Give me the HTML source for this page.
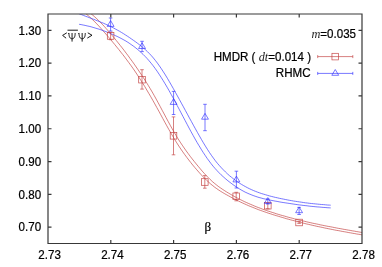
<!DOCTYPE html>
<html><head><meta charset="utf-8"><title>chart</title><style>html,body{margin:0;padding:0;background:#fff}body{width:382px;height:267px;overflow:hidden}</style></head><body>
<svg width="382" height="267" viewBox="0 0 382 267" style="display:block">
<rect width="382" height="267" fill="#fff"/>
<defs><clipPath id="c"><rect x="48.0" y="14.0" width="314.0" height="229.5"/></clipPath></defs>
<g clip-path="url(#c)">
<path d="M89.2,12.1 L92.2,14.7 L94.2,16.4 L96.2,18.2 L98.2,20.1 L100.2,22.1 L102.2,24.2 L104.2,26.3 L106.2,28.6 L108.2,30.9 L110.2,33.2 L112.2,35.5 L114.2,37.9 L116.2,40.4 L118.2,42.9 L120.2,45.4 L122.2,47.9 L124.2,50.5 L126.2,53.2 L128.2,55.8 L130.2,58.6 L132.2,61.3 L134.2,64.1 L136.2,67.0 L138.2,69.9 L140.2,72.9 L142.2,75.9 L144.2,79.0 L146.2,82.1 L148.2,85.3 L150.2,88.6 L152.2,92.0 L154.2,95.5 L156.2,99.1 L158.2,102.8 L160.2,106.5 L162.2,110.3 L164.2,114.0 L166.2,117.8 L168.2,121.5 L170.2,125.2 L172.2,128.8 L174.2,132.3 L176.2,135.7 L178.2,139.0 L180.2,142.1 L182.2,145.1 L184.2,148.0 L186.2,150.9 L188.2,153.6 L190.2,156.3 L192.2,158.9 L194.2,161.4 L196.2,163.9 L198.2,166.3 L200.2,168.7 L202.2,171.1 L204.2,173.3 L206.2,175.5 L208.2,177.5 L210.2,179.5 L212.2,181.4 L214.2,183.1 L216.2,184.7 L218.2,186.3 L220.2,187.7 L222.2,189.1 L224.2,190.4 L226.2,191.7 L228.2,192.9 L230.2,194.1 L232.2,195.2 L234.2,196.4 L236.2,197.4 L238.2,198.5 L240.2,199.5 L242.2,200.5 L244.2,201.5 L246.2,202.4 L248.2,203.3 L250.2,204.2 L252.2,205.0 L254.2,205.9 L256.2,206.7 L258.2,207.5 L260.2,208.2 L262.2,209.0 L264.2,209.7 L266.2,210.4 L268.2,211.1 L270.2,211.7 L272.2,212.4 L274.2,213.0 L276.2,213.7 L278.2,214.3 L280.2,214.9 L282.2,215.5 L284.2,216.0 L286.2,216.6 L288.2,217.2 L290.2,217.7 L292.2,218.2 L294.2,218.8 L296.2,219.3 L298.2,219.8 L300.2,220.3 L302.2,220.8 L304.2,221.2 L306.2,221.7 L308.2,222.2 L310.2,222.6 L312.2,223.1 L314.2,223.5 L316.2,223.9 L318.2,224.3 L320.2,224.8 L322.2,225.2 L324.2,225.6 L326.2,226.0 L328.2,226.4 L330.2,226.7 L332.2,227.1 L334.2,227.5 L336.2,227.9 L338.2,228.3 L340.2,228.6 L342.2,229.0 L344.2,229.4 L346.2,229.7 L348.2,230.1 L350.2,230.4 L352.2,230.8 L354.2,231.1 L356.2,231.5 L358.2,231.8 L360.2,232.2 L362.1,232.5" fill="none" stroke="#c44444" stroke-width="0.68"/>
<path d="M83.8,12.0 L86.8,14.5 L88.8,16.2 L90.8,18.0 L92.8,19.9 L94.8,21.8 L96.8,23.9 L98.8,26.0 L100.8,28.2 L102.8,30.5 L104.8,32.8 L106.8,35.1 L108.8,37.4 L110.8,39.8 L112.8,42.2 L114.8,44.6 L116.8,47.1 L118.8,49.5 L120.8,52.1 L122.8,54.6 L124.8,57.2 L126.8,59.9 L128.8,62.6 L130.8,65.3 L132.8,68.1 L134.8,71.0 L136.8,74.0 L138.8,77.1 L140.8,80.2 L142.8,83.4 L144.8,86.6 L146.8,90.0 L148.8,93.4 L150.8,96.8 L152.8,100.3 L154.8,103.9 L156.8,107.5 L158.8,111.1 L160.8,114.8 L162.8,118.5 L164.8,122.2 L166.8,125.8 L168.8,129.4 L170.8,132.9 L172.8,136.3 L174.8,139.7 L176.8,142.9 L178.8,146.0 L180.8,149.0 L182.8,151.9 L184.8,154.7 L186.8,157.4 L188.8,160.0 L190.8,162.6 L192.8,165.1 L194.8,167.5 L196.8,169.8 L198.8,172.1 L200.8,174.3 L202.8,176.5 L204.8,178.5 L206.8,180.5 L208.8,182.3 L210.8,184.1 L212.8,185.7 L214.8,187.3 L216.8,188.7 L218.8,190.1 L220.8,191.4 L222.8,192.6 L224.8,193.8 L226.8,194.9 L228.8,196.0 L230.8,197.1 L232.8,198.2 L234.8,199.2 L236.8,200.2 L238.8,201.2 L240.8,202.2 L242.8,203.1 L244.8,204.0 L246.8,204.9 L248.8,205.8 L250.8,206.6 L252.8,207.4 L254.8,208.2 L256.8,209.0 L258.8,209.8 L260.8,210.5 L262.8,211.2 L264.8,211.9 L266.8,212.6 L268.8,213.3 L270.8,213.9 L272.8,214.6 L274.8,215.2 L276.8,215.8 L278.8,216.4 L280.8,217.0 L282.8,217.6 L284.8,218.2 L286.8,218.8 L288.8,219.3 L290.8,219.9 L292.8,220.4 L294.8,220.9 L296.8,221.5 L298.8,222.0 L300.8,222.5 L302.8,223.0 L304.8,223.5 L306.8,224.0 L308.8,224.4 L310.8,224.9 L312.8,225.4 L314.8,225.8 L316.8,226.3 L318.8,226.7 L320.8,227.1 L322.8,227.5 L324.8,228.0 L326.8,228.4 L328.8,228.8 L330.8,229.2 L332.8,229.6 L334.8,230.0 L336.8,230.4 L338.8,230.7 L340.8,231.1 L342.8,231.5 L344.8,231.8 L346.8,232.2 L348.8,232.6 L350.8,232.9 L352.8,233.3 L354.8,233.6 L356.8,234.0 L358.8,234.3 L360.8,234.6 L362.1,234.9" fill="none" stroke="#c44444" stroke-width="0.68"/>
<path d="M78.4,13.5 L81.4,14.6 L83.4,15.4 L85.4,16.2 L87.4,16.9 L89.4,17.7 L91.4,18.4 L93.4,19.2 L95.4,20.0 L97.4,20.8 L99.4,21.6 L101.4,22.4 L103.4,23.2 L105.4,24.1 L107.4,25.0 L109.4,25.9 L111.4,26.9 L113.4,27.9 L115.4,29.0 L117.4,30.1 L119.4,31.2 L121.4,32.4 L123.4,33.6 L125.4,34.9 L127.4,36.2 L129.4,37.5 L131.4,38.9 L133.4,40.3 L135.4,41.7 L137.4,43.2 L139.4,44.7 L141.4,46.3 L143.4,48.0 L145.4,49.7 L147.4,51.6 L149.4,53.6 L151.4,55.7 L153.4,58.0 L155.4,60.5 L157.4,63.1 L159.4,65.9 L161.4,68.8 L163.4,71.9 L165.4,75.0 L167.4,78.3 L169.4,81.7 L171.4,85.2 L173.4,88.7 L175.4,92.3 L177.4,95.9 L179.4,99.5 L181.4,103.2 L183.4,106.8 L185.4,110.5 L187.4,114.2 L189.4,117.9 L191.4,121.5 L193.4,125.2 L195.4,128.8 L197.4,132.4 L199.4,135.9 L201.4,139.4 L203.4,142.8 L205.4,146.1 L207.4,149.3 L209.4,152.4 L211.4,155.3 L213.4,158.1 L215.4,160.8 L217.4,163.3 L219.4,165.6 L221.4,167.8 L223.4,169.9 L225.4,171.9 L227.4,173.8 L229.4,175.6 L231.4,177.2 L233.4,178.8 L235.4,180.3 L237.4,181.7 L239.4,183.1 L241.4,184.3 L243.4,185.5 L245.4,186.6 L247.4,187.7 L249.4,188.7 L251.4,189.6 L253.4,190.5 L255.4,191.3 L257.4,192.1 L259.4,192.8 L261.4,193.5 L263.4,194.1 L265.4,194.7 L267.4,195.3 L269.4,195.9 L271.4,196.4 L273.4,196.9 L275.4,197.4 L277.4,197.8 L279.4,198.3 L281.4,198.7 L283.4,199.1 L285.4,199.5 L287.4,199.9 L289.4,200.3 L291.4,200.6 L293.4,201.0 L295.4,201.3 L297.4,201.6 L299.4,201.9 L301.4,202.2 L303.4,202.5 L305.4,202.8 L307.4,203.0 L309.4,203.3 L311.4,203.5 L313.4,203.7 L315.4,203.9 L317.4,204.1 L319.4,204.3 L321.4,204.5 L323.4,204.6 L325.4,204.8 L327.4,205.0 L329.4,205.1 L330.7,205.2" fill="none" stroke="#3838ff" stroke-width="0.68"/>
<path d="M79.1,24.3 L81.1,24.6 L83.1,25.0 L85.1,25.4 L87.1,25.9 L89.1,26.3 L91.1,26.8 L93.1,27.4 L95.1,28.0 L97.1,28.6 L99.1,29.2 L101.1,29.9 L103.1,30.6 L105.1,31.3 L107.1,32.1 L109.1,32.9 L111.1,33.7 L113.1,34.6 L115.1,35.5 L117.1,36.4 L119.1,37.4 L121.1,38.4 L123.1,39.5 L125.1,40.6 L127.1,41.8 L129.1,43.1 L131.1,44.5 L133.1,45.9 L135.1,47.4 L137.1,49.0 L139.1,50.7 L141.1,52.5 L143.1,54.4 L145.1,56.4 L147.1,58.5 L149.1,60.8 L151.1,63.2 L153.1,65.7 L155.1,68.4 L157.1,71.2 L159.1,74.2 L161.1,77.3 L163.1,80.5 L165.1,83.8 L167.1,87.2 L169.1,90.7 L171.1,94.3 L173.1,97.9 L175.1,101.6 L177.1,105.4 L179.1,109.1 L181.1,112.9 L183.1,116.7 L185.1,120.5 L187.1,124.3 L189.1,128.1 L191.1,131.8 L193.1,135.4 L195.1,139.0 L197.1,142.5 L199.1,145.8 L201.1,149.1 L203.1,152.3 L205.1,155.3 L207.1,158.3 L209.1,161.0 L211.1,163.7 L213.1,166.2 L215.1,168.5 L217.1,170.7 L219.1,172.8 L221.1,174.8 L223.1,176.6 L225.1,178.4 L227.1,180.1 L229.1,181.7 L231.1,183.2 L233.1,184.7 L235.1,186.1 L237.1,187.4 L239.1,188.7 L241.1,189.9 L243.1,191.0 L245.1,192.1 L247.1,193.0 L249.1,193.9 L251.1,194.7 L253.1,195.5 L255.1,196.2 L257.1,196.9 L259.1,197.5 L261.1,198.0 L263.1,198.6 L265.1,199.0 L267.1,199.5 L269.1,199.9 L271.1,200.3 L273.1,200.7 L275.1,201.1 L277.1,201.4 L279.1,201.8 L281.1,202.2 L283.1,202.5 L285.1,202.8 L287.1,203.1 L289.1,203.4 L291.1,203.7 L293.1,204.0 L295.1,204.3 L297.1,204.6 L299.1,204.9 L301.1,205.1 L303.1,205.4 L305.1,205.6 L307.1,205.8 L309.1,206.1 L311.1,206.3 L313.1,206.5 L315.1,206.7 L317.1,206.9 L319.1,207.0 L321.1,207.2 L323.1,207.4 L325.1,207.5 L327.1,207.7 L329.1,207.8 L330.7,207.9" fill="none" stroke="#3838ff" stroke-width="0.68"/>
<path d="M110.60,32.10V39.70M108.80,32.10h3.6M108.80,39.70h3.6" fill="none" stroke="#c44444" stroke-width="0.68"/>
<rect x="107.30" y="32.60" width="6.6" height="6.6" fill="none" stroke="#c44444" stroke-width="0.68"/>
<path d="M142.00,69.70V89.10M140.20,69.70h3.6M140.20,89.10h3.6" fill="none" stroke="#c44444" stroke-width="0.68"/>
<rect x="138.70" y="76.35" width="6.6" height="6.6" fill="none" stroke="#c44444" stroke-width="0.68"/>
<path d="M173.50,116.90V154.80M171.70,116.90h3.6M171.70,154.80h3.6" fill="none" stroke="#c44444" stroke-width="0.68"/>
<rect x="170.20" y="132.50" width="6.6" height="6.6" fill="none" stroke="#c44444" stroke-width="0.68"/>
<path d="M204.80,175.60V188.20M203.00,175.60h3.6M203.00,188.20h3.6" fill="none" stroke="#c44444" stroke-width="0.68"/>
<rect x="201.50" y="178.70" width="6.6" height="6.6" fill="none" stroke="#c44444" stroke-width="0.68"/>
<path d="M236.20,192.30V200.80M234.40,192.30h3.6M234.40,200.80h3.6" fill="none" stroke="#c44444" stroke-width="0.68"/>
<rect x="232.90" y="193.00" width="6.6" height="6.6" fill="none" stroke="#c44444" stroke-width="0.68"/>
<path d="M267.80,203.00V208.80M266.00,203.00h3.6M266.00,208.80h3.6" fill="none" stroke="#c44444" stroke-width="0.68"/>
<rect x="264.50" y="202.40" width="6.6" height="6.6" fill="none" stroke="#c44444" stroke-width="0.68"/>
<path d="M299.10,221.40V223.40M297.30,221.40h3.6M297.30,223.40h3.6" fill="none" stroke="#c44444" stroke-width="0.68"/>
<rect x="295.80" y="219.20" width="6.6" height="6.6" fill="none" stroke="#c44444" stroke-width="0.68"/>
<path d="M110.60,18.00V31.00M108.80,18.00h3.6M108.80,31.00h3.6" fill="none" stroke="#3838ff" stroke-width="0.68"/>
<path d="M110.60,20.60L114.05,26.40H107.15Z" fill="none" stroke="#3838ff" stroke-width="0.68"/>
<path d="M142.05,41.30V51.60M140.25,41.30h3.6M140.25,51.60h3.6" fill="none" stroke="#3838ff" stroke-width="0.68"/>
<path d="M142.05,42.70L145.50,48.50H138.60Z" fill="none" stroke="#3838ff" stroke-width="0.68"/>
<path d="M173.60,91.40V114.50M171.80,91.40h3.6M171.80,114.50h3.6" fill="none" stroke="#3838ff" stroke-width="0.68"/>
<path d="M173.60,98.60L177.05,104.40H170.15Z" fill="none" stroke="#3838ff" stroke-width="0.68"/>
<path d="M205.00,104.30V130.70M203.20,104.30h3.6M203.20,130.70h3.6" fill="none" stroke="#3838ff" stroke-width="0.68"/>
<path d="M205.00,113.40L208.45,119.20H201.55Z" fill="none" stroke="#3838ff" stroke-width="0.68"/>
<path d="M236.40,171.20V188.00M234.60,171.20h3.6M234.60,188.00h3.6" fill="none" stroke="#3838ff" stroke-width="0.68"/>
<path d="M236.40,176.10L239.85,181.90H232.95Z" fill="none" stroke="#3838ff" stroke-width="0.68"/>
<path d="M267.80,199.00V204.00M266.00,199.00h3.6M266.00,204.00h3.6" fill="none" stroke="#3838ff" stroke-width="0.68"/>
<path d="M267.80,197.60L271.25,203.40H264.35Z" fill="none" stroke="#3838ff" stroke-width="0.68"/>
<path d="M299.10,207.40V214.50M297.30,207.40h3.6M297.30,214.50h3.6" fill="none" stroke="#3838ff" stroke-width="0.68"/>
<path d="M299.10,206.90L302.55,212.70H295.65Z" fill="none" stroke="#3838ff" stroke-width="0.68"/>
</g>
<path d="M317.7,56.6H352.8M317.7,55.1v3M352.8,55.1v3" fill="none" stroke="#c44444" stroke-width="0.68"/>
<rect x="331.95" y="53.30" width="6.6" height="6.6" fill="none" stroke="#c44444" stroke-width="0.68"/>
<path d="M317.7,73.4H352.8M317.7,71.9v3M352.8,71.9v3" fill="none" stroke="#3838ff" stroke-width="0.68"/>
<path d="M335.25,69.50L338.70,75.30H331.80Z" fill="none" stroke="#3838ff" stroke-width="0.68"/>
<path d="M48.0,14.0H362.0V243.5H48.0ZM110.80,243.5v-3.5M110.80,14.0v3.5M173.60,243.5v-3.5M173.60,14.0v3.5M236.40,243.5v-3.5M236.40,14.0v3.5M299.20,243.5v-3.5M299.20,14.0v3.5M48.0,227.11h3.5M362.0,227.11h-3.5M48.0,194.32h3.5M362.0,194.32h-3.5M48.0,161.54h3.5M362.0,161.54h-3.5M48.0,128.75h3.5M362.0,128.75h-3.5M48.0,95.96h3.5M362.0,95.96h-3.5M48.0,63.18h3.5M362.0,63.18h-3.5M48.0,30.39h3.5M362.0,30.39h-3.5" fill="none" stroke="#383838" stroke-width="1.2"/>
<g font-family="Liberation Sans, sans-serif" font-size="12.2" fill="#000" stroke="#000" stroke-width="0.22" style="filter:grayscale(1)">
<text transform="translate(49.60,259.20) scale(0.95,1)" text-anchor="middle">2.73</text>
<text transform="translate(112.40,259.20) scale(0.95,1)" text-anchor="middle">2.74</text>
<text transform="translate(175.20,259.20) scale(0.95,1)" text-anchor="middle">2.75</text>
<text transform="translate(238.00,259.20) scale(0.95,1)" text-anchor="middle">2.76</text>
<text transform="translate(300.80,259.20) scale(0.95,1)" text-anchor="middle">2.77</text>
<text transform="translate(363.60,259.20) scale(0.95,1)" text-anchor="middle">2.78</text>
<text transform="translate(41.10,231.41) scale(0.95,1)" text-anchor="end">0.70</text>
<text transform="translate(41.10,198.62) scale(0.95,1)" text-anchor="end">0.80</text>
<text transform="translate(41.10,165.84) scale(0.95,1)" text-anchor="end">0.90</text>
<text transform="translate(41.10,133.05) scale(0.95,1)" text-anchor="end">1.00</text>
<text transform="translate(41.10,100.26) scale(0.95,1)" text-anchor="end">1.10</text>
<text transform="translate(41.10,67.48) scale(0.95,1)" text-anchor="end">1.20</text>
<text transform="translate(41.10,34.69) scale(0.95,1)" text-anchor="end">1.30</text>
<text transform="translate(356.00,37.60) scale(0.95,1)" text-anchor="end"><tspan font-family="Liberation Serif, serif" font-style="italic" font-size="13" stroke="none" fill="#222">m</tspan>=0.035</text>
<text transform="translate(311.00,60.60) scale(0.95,1)" text-anchor="end">HMDR ( <tspan font-family="Liberation Serif, serif" font-style="italic" font-size="13" stroke="none" fill="#222">dt</tspan>=0.014 )</text>
<text transform="translate(310.50,76.50) scale(0.95,1)" text-anchor="end">RHMC</text>
<text x="204.5" y="231.2" font-family="Liberation Serif, serif" font-size="13">β</text>
</g>
<g fill="none" stroke="#000" stroke-width="0.9" aria-label="&lt;psi-bar psi&gt;"><path d="M67.5,30.2H77.9"/><path d="M66.8,32.8L62.6,35.4L66.1,38.2"/><path d="M72.06,33.0V41.6M68.26,33.7L68.96,33.1C68.96,37.0 70.06,38.7 72.06,38.8C74.06,38.7 75.16,37.0 75.16,33.1"/><path d="M82.15,33.0V41.6M78.35,33.7L79.05,33.1C79.05,37.0 80.15,38.7 82.15,38.8C84.15,38.7 85.25,37.0 85.25,33.1"/><path d="M87.8,32.8L92.0,35.25L87.3,38.1"/></g>
</svg>
</body></html>
